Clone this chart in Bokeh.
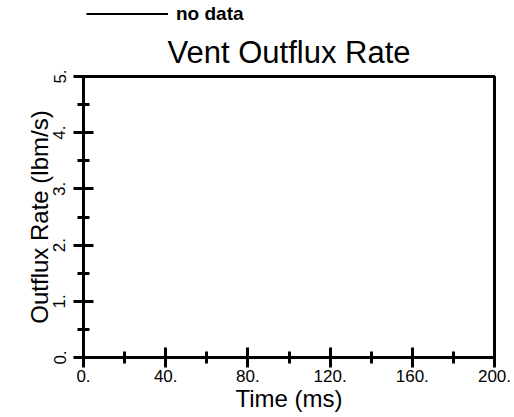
import math
from bokeh.plotting import figure
from bokeh.layouts import column
from bokeh.models import Range1d, FixedTicker, Legend, LegendItem, ColumnDataSource
from bokeh.embed import file_html
from bokeh.resources import INLINE

# ---- data -------------------------------------------------------------
time_ms = []          # no data recorded
outflux = []          # no data recorded
series_name = "no data"

x_ticks = [0, 40, 80, 120, 160, 200]
x_minor = [20, 60, 100, 140, 180]
x_labels = ["0.", "40.", "80.", "120.", "160.", "200."]

y_ticks = [0, 1, 2, 3, 4, 5]
y_minor = [0.5, 1.5, 2.5, 3.5, 4.5]
y_labels = ["0.", "1.", "2.", "3.", "4.", "5."]

title_text = "Vent Outflux Rate"
x_label = "Time (ms)"
y_label = "Outflux Rate (lbm/s)"

FONT = "Liberation Sans"
LEG_H = 25

src = ColumnDataSource(dict(t=time_ms, v=outflux))
# the legend key needs one (missing) sample so that its line sample is drawn
leg_src = ColumnDataSource(dict(t=time_ms or [math.nan], v=outflux or [math.nan]))

# ---- legend strip -------------------------------------------------------
lf = figure(width=514, height=LEG_H, output_backend="svg", toolbar_location=None,
            x_range=Range1d(0, 200), y_range=Range1d(0, 5),
            x_axis_type=None, y_axis_type=None, min_border=0)
lf.grid.visible = False
lf.outline_line_color = None
lf.background_fill_color = "white"
lf.border_fill_color = "white"
lr = lf.line(x="t", y="v", source=leg_src, line_color="black", line_width=3)
legend = Legend(items=[LegendItem(label=series_name, renderers=[lr])],
                orientation="horizontal", location=(3, 0),
                glyph_width=82, glyph_height=2, label_height=14, label_standoff=8,
                label_text_font=FONT, label_text_font_size="19px",
                label_text_font_style="bold", label_text_color="black",
                border_line_color=None, background_fill_alpha=0,
                padding=0, margin=0)
lf.add_layout(legend, "center")

# ---- main chart ---------------------------------------------------------
p = figure(width=514, height=417 - LEG_H, output_backend="svg", toolbar_location=None,
           x_range=Range1d(0, 200), y_range=Range1d(0, 5),
           min_border_left=83, min_border_right=20, min_border_top=75 - LEG_H,
           min_border_bottom=60, title=title_text)
p.background_fill_color = "white"
p.border_fill_color = "white"
p.grid.visible = False
p.outline_line_color = "black"
p.outline_line_width = 3

p.title.align = "center"
p.title.offset = 5
p.title.text_font = FONT
p.title.text_font_size = "31px"
p.title.text_font_style = "normal"
p.title.text_color = "black"
p.title.standoff = 14

r = p.line(x="t", y="v", source=src, line_color="black", line_width=3)

for ax, ticks, minor, labels, lab in ((p.xaxis[0], x_ticks, x_minor, x_labels, x_label),
                                      (p.yaxis[0], y_ticks, y_minor, y_labels, y_label)):
    ax.ticker = FixedTicker(ticks=ticks, minor_ticks=minor)
    ax.major_label_overrides = {t: l for t, l in zip(ticks, labels)}
    ax.axis_line_width = 3
    ax.axis_line_color = "black"
    ax.major_tick_line_width = 3
    ax.minor_tick_line_width = 3
    ax.major_tick_line_color = "black"
    ax.minor_tick_line_color = "black"
    ax.major_tick_in = 10
    ax.major_tick_out = 10
    ax.minor_tick_in = 6
    ax.minor_tick_out = 6
    ax.major_label_text_font = FONT
    ax.major_label_text_font_size = "17px"
    ax.major_label_text_color = "black"
    ax.major_label_standoff = 2
    ax.axis_label = lab
    ax.axis_label_text_font = FONT
    ax.axis_label_text_font_size = "24px"
    ax.axis_label_text_font_style = "normal"
    ax.axis_label_text_color = "black"
    ax.axis_label_standoff = 0

p.yaxis[0].major_label_orientation = "vertical"
p.yaxis[0].major_label_standoff = 8
p.yaxis[0].axis_label_standoff = -2

open("out.html", "w").write(file_html(column(lf, p), INLINE))
